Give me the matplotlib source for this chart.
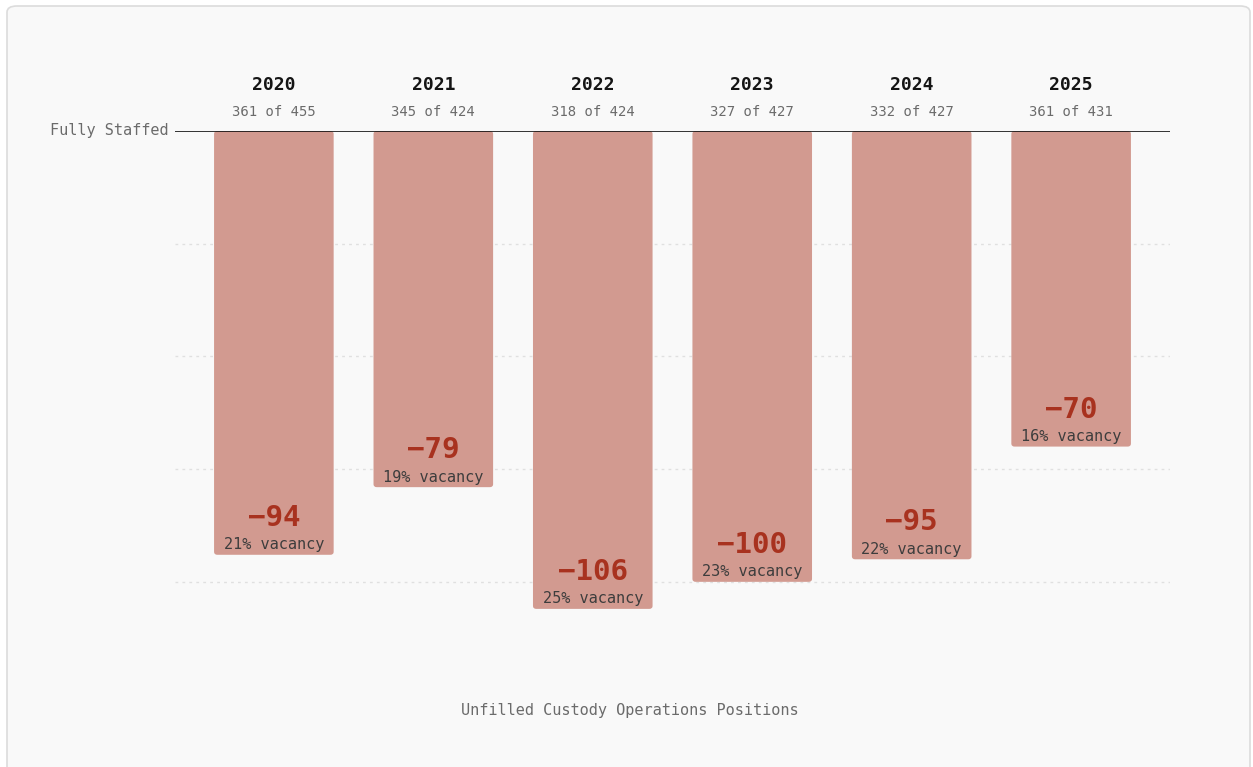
import numpy as np
import matplotlib
matplotlib.use("Agg")
import matplotlib.pyplot as plt
from matplotlib.patches import FancyBboxPatch

years = ["2020", "2021", "2022", "2023", "2024", "2025"]
filled = [361, 345, 318, 327, 332, 361]
authorized = [455, 424, 424, 427, 427, 431]
gap = [f - a for f, a in zip(filled, authorized)]
vacancy = [round(-g / a * 100) for g, a in zip(gap, authorized)]
grid_vals = [-25, -50, -75, -100]

MONO = ["DejaVu Sans Mono"]
BAR = "#d29a90"
RED = "#a8321f"
GREY = "#6b6b6b"

fig = plt.figure(figsize=(12.53, 7.67), dpi=100, facecolor="white")
card = FancyBboxPatch((7 / 1253, -0.02), 1243 / 1253, 1 - 6 / 767 + 0.02,
                      boxstyle="round,pad=0,rounding_size=0.008",
                      transform=fig.transFigure, facecolor="#f9f9f9",
                      edgecolor="#dcdcdc", lw=1.2, zorder=-10)
fig.patches.append(card)

ax = fig.add_axes([175 / 1253, 1 - 672 / 767, 995 / 1253, 541 / 767])
ax.set_zorder(1)
ax.set_facecolor("none")
x = np.arange(len(years))
bars = ax.bar(x, gap, width=0.75, color=BAR, zorder=2)
# swap the plain rectangles for slightly rounded ones
for b in bars:
    b.set_visible(False)
    ax.add_patch(FancyBboxPatch((b.get_x(), b.get_y() + b.get_height()), b.get_width(),
                                -b.get_height(), boxstyle="round,pad=0,rounding_size=0.02",
                                mutation_aspect=34, facecolor=BAR, edgecolor="none", zorder=2))
for g in grid_vals:
    ax.axhline(g, color="#e0e0e0", lw=1, ls=(0, (2, 3)), zorder=1)
ax.axhline(0, color="#111111", lw=1.2, zorder=3)
ax.set_xlim(-0.62, len(years) - 1 + 0.62)
ax.set_ylim(-120, 0)
ax.axis("off")

for i in range(len(years)):
    ax.annotate(years[i], (x[i], 0), xytext=(0, 46), textcoords="offset pixels",
                ha="center", va="center", fontsize=13, fontweight="bold",
                color="#151515", family=MONO, annotation_clip=False)
    ax.annotate(f"{filled[i]} of {authorized[i]}", (x[i], 0), xytext=(0, 19),
                textcoords="offset pixels", ha="center", va="center",
                fontsize=10, color=GREY, family=MONO, annotation_clip=False)
    ax.annotate(f"\u2212{-gap[i]}", (x[i], gap[i]), xytext=(0, 37),
                textcoords="offset pixels", ha="center", va="center",
                fontsize=21, fontweight="bold", color=RED, family=MONO)
    ax.annotate(f"{vacancy[i]}% vacancy", (x[i], gap[i]), xytext=(0, 10),
                textcoords="offset pixels", ha="center", va="center",
                fontsize=11, color="#3d3d3d", family=MONO)

ax.annotate("Fully Staffed", (-0.62, 0), xytext=(-6, 0), textcoords="offset pixels",
            ha="right", va="center", fontsize=11, color=GREY, family=MONO,
            annotation_clip=False)

fig.text(630 / 1253, 1 - 711 / 767, "Unfilled Custody Operations Positions",
         ha="center", va="center", fontsize=11, color=GREY, family=MONO)

fig.savefig("out.png", dpi=100, facecolor=fig.get_facecolor())
